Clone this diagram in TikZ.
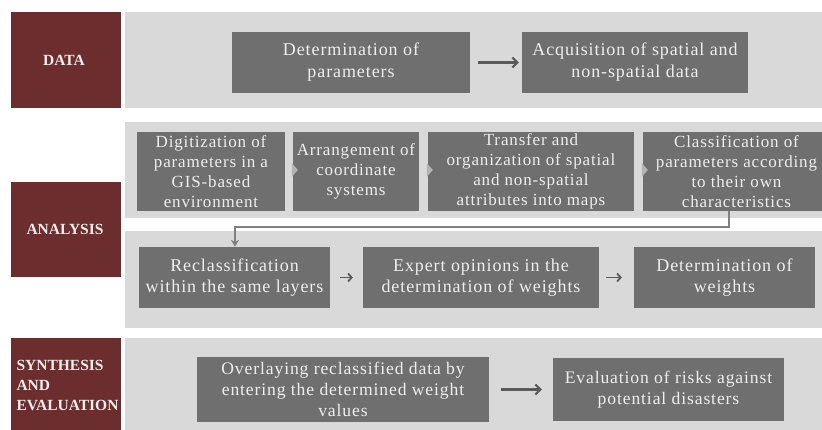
\documentclass[tikz,border=0pt]{standalone}
\usepackage{fontspec}
\setmainfont{Liberation Serif}
\usetikzlibrary{arrows.meta}
\definecolor{maroon}{HTML}{6B2D2D}
\definecolor{panel}{HTML}{D9D9D9}
\definecolor{boxgrey}{HTML}{6F6F6F}
\definecolor{boxtxt}{HTML}{EEEEEE}
\definecolor{arrgrey}{HTML}{5A5A5A}
\definecolor{chev}{HTML}{B4B4B4}
\begin{document}
\begin{tikzpicture}[x=1pt,y=-1pt,
  phase/.style={fill=maroon,draw=none},
  panelbg/.style={fill=panel,draw=none},
  stepbox/.style={fill=boxgrey,draw=none,inner sep=0pt},
  boxtext/.style={text=boxtxt,align=center,inner sep=0pt},
  datatext/.style={boxtext,font=\fontsize{18}{22}\selectfont\addfontfeature{LetterSpace=5}},
  toptext/.style={boxtext,font=\fontsize{17}{20}\selectfont\addfontfeature{LetterSpace=5}},
  midtext/.style={boxtext,font=\fontsize{18}{20.5}\selectfont\addfontfeature{LetterSpace=5}},
  syntext/.style={boxtext,font=\fontsize{17.6}{21}\selectfont\addfontfeature{LetterSpace=5}},
  labeltext/.style={text=boxtxt,font=\bfseries\fontsize{15.5}{20}\selectfont},
  arr/.style={draw=arrgrey,line width=2.2pt,-{Straight Barb[length=5pt,width=10pt,line width=2pt]}},
  smallarr/.style={draw=arrgrey,line width=1.8pt,-{Straight Barb[length=3.5pt,width=8pt,line width=1.8pt]}},
  conn/.style={draw=gray,line width=1.4pt,-{Stealth[length=7pt,width=8pt]}},
  chevron/.style={fill=chev,draw=none}
]
\useasboundingbox (0,0) rectangle (822,430);
\fill[white] (0,0) rectangle (822,430);

% phase labels
\fill[phase] (11,12) rectangle (121,108);
\fill[phase] (11,182) rectangle (121,277);
\fill[phase] (11,338) rectangle (121,430);
% panels
\fill[panelbg] (125,12) rectangle (822,108);
\fill[panelbg] (125,122) rectangle (822,218);
\fill[panelbg] (125,231) rectangle (822,328);
\fill[panelbg] (125,338) rectangle (822,430);

\node[labeltext] (ldata) at (64,60) {DATA};
\node[labeltext] (lana) at (65,229.5) {ANALYSIS};
\node[labeltext,align=left,anchor=west] (lsyn) at (13,385) {SYNTHESIS\\AND\\EVALUATION};

% DATA row
\node[stepbox,minimum width=238,minimum height=61,
  label={[datatext]center:Determination of\\parameters}] (d1) at (351,62.5) {};
\node[stepbox,minimum width=226,minimum height=61,
  label={[datatext]center:Acquisition of spatial and\\non-spatial data}] (d2) at (635,62.5) {};
\draw[arr,shorten <=8pt,shorten >=3pt] (d1) -- (d2);

% ANALYSIS top row
\node[stepbox,minimum width=148,minimum height=79,
  label={[toptext]center:Digitization of\\parameters in a\\GIS-based\\environment}] (a1) at (211,171.5) {};
\node[stepbox,minimum width=126,minimum height=79,
  label={[toptext]center:Arrangement of\\coordinate\\systems}] (a2) at (356,171.5) {};
\node[stepbox,minimum width=206,minimum height=79,
  label={[toptext]center:Transfer and\\organization of spatial\\and non-spatial\\attributes into maps}] (a3) at (531,171.5) {};
\node[stepbox,minimum width=187,minimum height=79,
  label={[toptext]center:Classification of\\parameters according\\to their own\\characteristics}] (a4) at (736.5,171.5) {};

\fill[chevron] ([xshift=-1]a2.west |- 0,163) -- ([xshift=5]a2.west |- 0,170) -- ([xshift=-1]a2.west |- 0,177) -- cycle;
\fill[chevron] ([xshift=-1]a3.west |- 0,163) -- ([xshift=5]a3.west |- 0,170) -- ([xshift=-1]a3.west |- 0,177) -- cycle;
\fill[chevron] ([xshift=-1]a4.west |- 0,163) -- ([xshift=5]a4.west |- 0,170) -- ([xshift=-1]a4.west |- 0,177) -- cycle;

% ANALYSIS bottom row
\node[stepbox,minimum width=191,minimum height=61,
  label={[midtext]center:Reclassification\\within the same layers}] (b1) at (234.5,277.5) {};
\node[stepbox,minimum width=236,minimum height=61,
  label={[midtext]center:Expert opinions in the\\determination of weights}] (b2) at (481,277.5) {};
\node[stepbox,minimum width=181,minimum height=61,
  label={[midtext]center:Determination of\\weights}] (b3) at (724.5,277.5) {};
\draw[smallarr,shorten <=10pt,shorten >=10pt] (b1) -- (b2);
\draw[smallarr,shorten <=7pt,shorten >=12pt] (b2) -- (b3);

\draw[conn] ([xshift=-7.5]a4.south) -- ++(0,16) -| ([xshift=0.5]b1.north);

% SYNTHESIS row
\node[stepbox,minimum width=292,minimum height=65,
  label={[syntext]center:Overlaying reclassified data by\\entering the determined weight\\values}] (s1) at (343,389.5) {};
\node[stepbox,minimum width=231,minimum height=63,
  label={[syntext]center:Evaluation of risks against\\potential disasters}] (s2) at (668.5,389.5) {};
\draw[arr,shorten <=12pt,shorten >=11pt] (s1) -- (s2);
\end{tikzpicture}
\end{document}
